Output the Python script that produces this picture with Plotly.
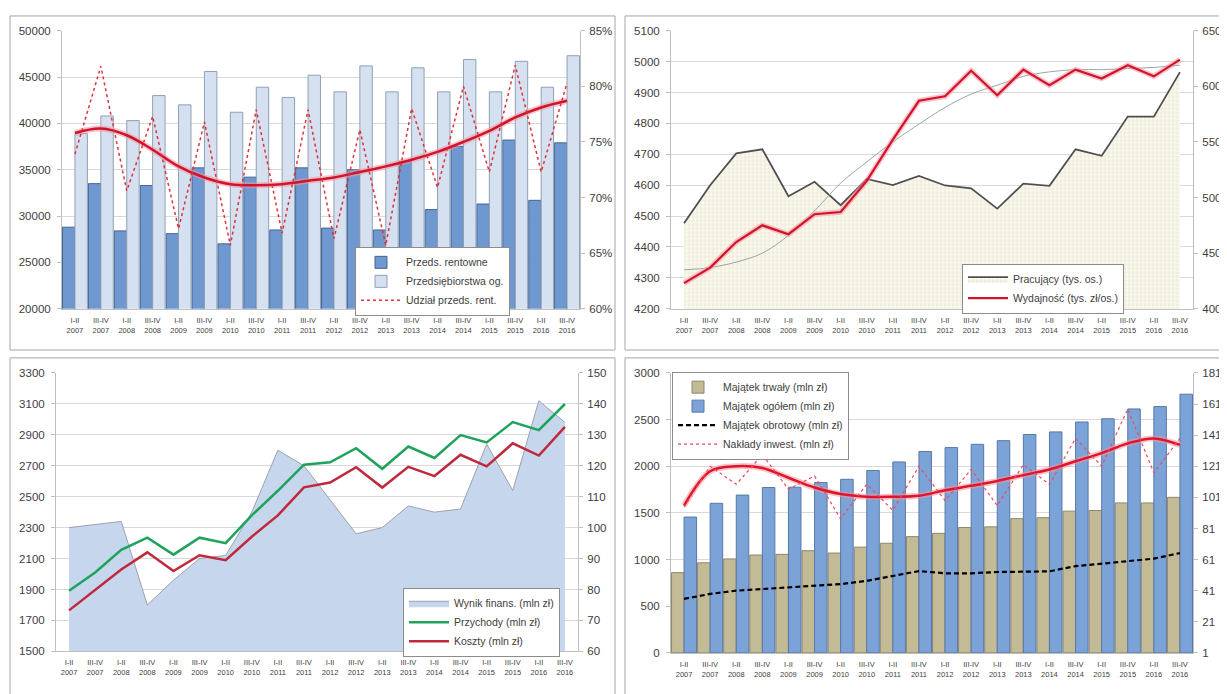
import plotly.graph_objects as go

# page is rendered with an 8px body margin: figure is offset by OFF
OFF = 8
W, H = 1227 - OFF, 694 - OFF

categories = ["I-II 2007", "III-IV 2007", "I-II 2008", "III-IV 2008", "I-II 2009", "III-IV 2009",
              "I-II 2010", "III-IV 2010", "I-II 2011", "III-IV 2011", "I-II 2012", "III-IV 2012",
              "I-II 2013", "III-IV 2013", "I-II 2014", "III-IV 2014", "I-II 2015", "III-IV 2015",
              "I-II 2016", "III-IV 2016"]
tick_labels = [c.replace(" ", "<br>") for c in categories]

# Panel 1 (top-left)
przeds_rentowne = [28800, 33500, 28400, 33300, 28100, 35200, 27000, 34200, 28500, 35200,
                   28700, 35000, 28500, 35900, 30700, 37500, 31300, 38200, 31700, 37900]
przeds_ogolem = [38900, 40800, 40300, 43000, 42000, 45600, 41200, 43900, 42800, 45200,
                 43400, 46200, 43400, 46000, 43400, 46900, 43400, 46700, 43900, 47300]
udzial_rent = [73.9, 81.8, 70.6, 77.3, 67.2, 76.8, 65.7, 77.9, 66.8, 77.9,
               66.3, 76.1, 65.7, 78.0, 70.9, 80.0, 72.3, 81.9, 72.3, 80.3]
udzial_trend = [75.8, 76.2, 75.6, 74.3, 72.8, 71.8, 71.2, 71.1, 71.2, 71.5,
                71.8, 72.3, 72.8, 73.4, 74.1, 75.0, 76.0, 77.2, 78.1, 78.7]

# Panel 2 (top-right)
pracujacy = [4477, 4600, 4703, 4716, 4564, 4611, 4535, 4620, 4600, 4630,
             4599, 4590, 4524, 4605, 4598, 4716, 4695, 4822, 4822, 4966]
wydajnosc = [423, 437, 460, 475, 467, 485, 487, 515, 552, 587,
             591, 614, 592, 615, 601, 615, 607, 619, 609, 624]
wydajnosc_trend = [435, 437, 442, 450, 466, 488, 513, 532, 550, 566,
                   581, 593, 601, 609, 613, 615, 615, 616, 617, 619]

# Panel 3 (bottom-left)
wynik_finans = [100, 101, 102, 75, 83, 90, 91, 105, 125, 120,
                109, 98, 100, 107, 105, 106, 127, 112, 141, 134]
przychody = [1892, 2010, 2156, 2235, 2125, 2235, 2199, 2379, 2538, 2707,
             2722, 2813, 2680, 2824, 2750, 2898, 2851, 2982, 2930, 3099]
koszty = [1765, 1898, 2029, 2140, 2019, 2121, 2089, 2241, 2379, 2560,
          2591, 2690, 2559, 2693, 2633, 2771, 2696, 2845, 2766, 2951]

# Panel 4 (bottom-right)
majatek_trwaly = [860, 965, 1007, 1049, 1056, 1095, 1070, 1133, 1175, 1246,
                  1281, 1344, 1351, 1439, 1449, 1519, 1526, 1607, 1607, 1667]
majatek_ogolem = [1456, 1603, 1691, 1772, 1775, 1825, 1860, 1954, 2046, 2158,
                  2200, 2235, 2274, 2340, 2368, 2474, 2509, 2614, 2639, 2772]
majatek_obrotowy = [579, 632, 667, 684, 695, 712, 737, 772, 825, 877,
                    853, 853, 867, 869, 874, 930, 954, 982, 1010, 1070]
naklady_inwest = [94.7, 121, 109.4, 128.4, 106.3, 114.7, 87.3, 109.4, 92.6, 121,
                  98.9, 118.9, 95.7, 122, 109.4, 138.9, 121, 157.8, 116.8, 138.9]
naklady_trend = [95.7, 117.8, 121, 119.9, 113.6, 107.3, 103.1, 101.4, 101.4, 102,
                 105.6, 108.4, 111.5, 115.3, 118.9, 124.2, 129.4, 135.7, 138.9, 134.7]


def fx(p):
    return (p - OFF) / W


def fy(p):
    return 1 - (p - OFF) / H


FONT = "Liberation Sans"
TXT = "#404040"
GRID = "#D9D9D9"
AXL = "#BFBFBF"

fig = go.Figure()

# ---------- Panel 1 ----------
fig.add_trace(go.Bar(x=categories, y=przeds_rentowne, name="Przeds. rentowne",
                     marker=dict(color="#6F98D0", line=dict(color="#45648F", width=1)),
                     xaxis="x", yaxis="y", legend="legend"))
fig.add_trace(go.Bar(x=categories, y=przeds_ogolem, name="Przedsiębiorstwa og.",
                     marker=dict(color="#D5E1F0", line=dict(color="#8FA0B5", width=1)),
                     xaxis="x", yaxis="y", legend="legend"))
fig.add_trace(go.Scatter(x=categories, y=udzial_trend, mode="lines", showlegend=False,
                         line=dict(color="rgba(245,150,160,0.55)", width=6, shape="spline"),
                         xaxis="x", yaxis="y2", hoverinfo="skip"))
fig.add_trace(go.Scatter(x=categories, y=udzial_trend, mode="lines", showlegend=False,
                         line=dict(color="#D0142C", width=2.5, shape="spline"),
                         xaxis="x", yaxis="y2"))
fig.add_trace(go.Scatter(x=categories, y=udzial_rent, mode="lines", name="Udział przeds. rent.",
                         line=dict(color="#E0303A", width=1.5, dash="dot"),
                         xaxis="x", yaxis="y2", legend="legend"))

# ---------- Panel 2 ----------
fig.add_trace(go.Scatter(x=categories, y=pracujacy, mode="lines", name="Pracujący (tys. os.)",
                         fill="tozeroy", fillcolor="#FAF7EA",
                         fillpattern=dict(shape="+", fgcolor="#C9BF9E", bgcolor="#FBF9EE",
                                          size=4, solidity=0.2),
                         line=dict(color="#505050", width=1.8),
                         xaxis="x2", yaxis="y3", legend="legend2"))
fig.add_trace(go.Scatter(x=categories, y=wydajnosc_trend, mode="lines", showlegend=False,
                         line=dict(color="#93AAA3", width=1, shape="spline"),
                         xaxis="x2", yaxis="y4"))
fig.add_trace(go.Scatter(x=categories, y=wydajnosc, mode="lines", showlegend=False,
                         line=dict(color="rgba(245,150,160,0.55)", width=5.5),
                         xaxis="x2", yaxis="y4", hoverinfo="skip"))
fig.add_trace(go.Scatter(x=categories, y=wydajnosc, mode="lines", name="Wydajność (tys. zł/os.)",
                         line=dict(color="#D0142C", width=2.2),
                         xaxis="x2", yaxis="y4", legend="legend2"))

# ---------- Panel 3 ----------
fig.add_trace(go.Scatter(x=categories, y=wynik_finans, mode="lines", name="Wynik finans. (mln zł)",
                         fill="tozeroy", fillcolor="#C6D6EC",
                         line=dict(color="#9AA2AE", width=1),
                         xaxis="x3", yaxis="y5", legend="legend3"))
fig.add_trace(go.Scatter(x=categories, y=przychody, mode="lines", name="Przychody (mln zł)",
                         line=dict(color="#1FA35C", width=2.5),
                         xaxis="x3", yaxis="y6", legend="legend3"))
fig.add_trace(go.Scatter(x=categories, y=koszty, mode="lines", name="Koszty (mln zł)",
                         line=dict(color="#BE2A3C", width=2.5),
                         xaxis="x3", yaxis="y6", legend="legend3"))

# ---------- Panel 4 ----------
fig.add_trace(go.Bar(x=categories, y=majatek_trwaly, name="Majątek trwały (mln zł)",
                     marker=dict(color="#C3BA96", line=dict(color="#8E866A", width=1)),
                     xaxis="x4", yaxis="y7", legend="legend4"))
fig.add_trace(go.Bar(x=categories, y=majatek_ogolem, name="Majątek ogółem (mln zł)",
                     marker=dict(color="#7CA3D8", line=dict(color="#5878A8", width=1)),
                     xaxis="x4", yaxis="y7", legend="legend4"))
fig.add_trace(go.Scatter(x=categories, y=majatek_obrotowy, mode="lines", name="Majątek obrotowy (mln zł)",
                         line=dict(color="#000000", width=2.2, dash="5px,3px"),
                         xaxis="x4", yaxis="y7", legend="legend4"))
fig.add_trace(go.Scatter(x=categories, y=naklady_trend, mode="lines", showlegend=False,
                         line=dict(color="rgba(245,150,160,0.55)", width=6, shape="spline"),
                         xaxis="x4", yaxis="y8", hoverinfo="skip"))
fig.add_trace(go.Scatter(x=categories, y=naklady_trend, mode="lines", showlegend=False,
                         line=dict(color="#E0142C", width=2.5, shape="spline"),
                         xaxis="x4", yaxis="y8"))
fig.add_trace(go.Scatter(x=categories, y=naklady_inwest, mode="lines", name="Nakłady inwest. (mln zł)",
                         line=dict(color="#EE4A5A", width=1.2, dash="dot"),
                         xaxis="x4", yaxis="y8", legend="legend4"))


def xax(x0, x1, anchor):
    return dict(domain=[fx(x0), fx(x1)], anchor=anchor, type="category", range=[-0.5, 19.5],
                tickmode="array", tickvals=categories, ticktext=tick_labels,
                tickfont=dict(size=7.5, color=TXT, family=FONT), tickangle=0,
                ticklabelstandoff=4,
                showgrid=False, showline=True, linecolor=AXL, linewidth=1, ticks="",
                zeroline=False)


def yax(y_top, y_bot, anchor, rng, dtick, fmt="d", grid=True, side="left", overlay=None, suffix=""):
    d = dict(anchor=anchor, range=rng, dtick=dtick, tick0=rng[0], tickformat=fmt, side=side,
             showgrid=grid, gridcolor=GRID, gridwidth=1, zeroline=False,
             showline=True, linecolor=AXL, linewidth=1, ticks="outside", ticklen=4,
             ticklabelstandoff=4 if side == "left" else 2,
             tickcolor=AXL, tickfont=dict(size=11.5, color=TXT, family=FONT), ticksuffix=suffix)
    if overlay:
        d["overlaying"] = overlay
    else:
        d["domain"] = [fy(y_bot), fy(y_top)]
    return d


legend_common = dict(bgcolor="white", bordercolor="#8C8C8C", borderwidth=1,
                     font=dict(size=10.5, color=TXT, family=FONT), itemwidth=40,
                     xanchor="left", yanchor="top", traceorder="normal",
                     tracegroupgap=0, itemclick=False)

fig.update_layout(
    width=W, height=H, autosize=False,
    margin=dict(l=0, r=0, t=0, b=0),
    paper_bgcolor="white", plot_bgcolor="white",
    barmode="group", bargap=0.04, bargroupgap=0,
    font=dict(family=FONT, color=TXT),
    # panel 1
    xaxis=xax(62, 580, "y"),
    yaxis=yax(25, 308, "x", [20000, 50000], 5000),
    yaxis2=yax(25, 308, "x", [60, 85], 5, grid=False, side="right", overlay="y", suffix="%"),
    # panel 2
    xaxis2=xax(671, 1193, "y3"),
    yaxis3=yax(25, 308, "x2", [4200, 5100], 100),
    yaxis4=yax(25, 308, "x2", [400, 650], 50, grid=False, side="right", overlay="y3"),
    # panel 3 (area axis is the base, drawn on the right)
    xaxis3=xax(56, 578, "y5"),
    yaxis5=yax(373.3, 656.7, "x3", [60, 150], 10, side="right"),
    yaxis6=yax(373.3, 656.7, "x3", [1500, 3300], 200, grid=False, side="left", overlay="y5"),
    # panel 4
    xaxis4=xax(671, 1193, "y7"),
    yaxis7=yax(373.3, 658.3, "x4", [0, 3000], 500),
    yaxis8=yax(373.3, 658.3, "x4", [1, 181], 20, grid=False, side="right", overlay="y7"),
    legend=dict(legend_common, x=fx(355), y=fy(245)),
    legend2=dict(legend_common, x=fx(962), y=fy(262)),
    legend3=dict(legend_common, x=fx(403), y=fy(592)),
    legend4=dict(legend_common, x=fx(672), y=fy(372)),
    showlegend=True,
)

# panel frames
frame = dict(type="rect", xref="paper", yref="paper", line=dict(color="#A6A6A6", width=1),
             fillcolor="rgba(0,0,0,0)", layer="below")
fig.add_shape(frame, x0=fx(10), x1=fx(615), y0=fy(350), y1=fy(10))
fig.add_shape(frame, x0=fx(625), x1=1.02, y0=fy(350), y1=fy(10))
fig.add_shape(frame, x0=fx(10), x1=fx(615), y0=-0.02, y1=fy(358))
fig.add_shape(frame, x0=fx(625), x1=1.02, y0=-0.02, y1=fy(358))

fig.write_html("out.html")
